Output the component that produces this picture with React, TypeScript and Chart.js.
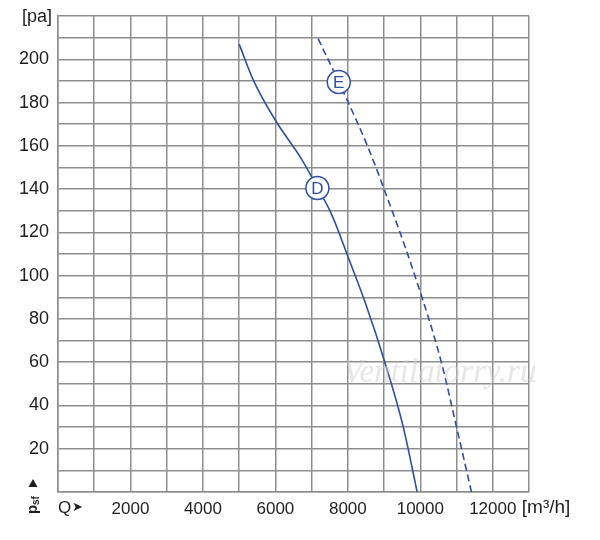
import { useEffect, useRef } from "react";
import { Chart, registerables, type ChartConfiguration, type Plugin } from "chart.js";

Chart.register(...registerables);

// curve D (solid) — Q [m³/h] vs psf [pa]
const D_Q = [5000, 5400, 6030, 6680, 7170, 7560, 8020, 8470, 9020, 9530, 9913];
const D_P = [207, 190, 171, 155, 140.5, 128, 108, 88, 60, 30, 0];

// curve E (dashed)
const E_Q = [7180, 7750, 8540, 9000, 9850, 10580, 11000, 11412];
const E_P = [209.5, 189.5, 160, 140, 100, 60, 30, 0];

// circled curve labels
const MARK_TEXT = ["D", "E"];
const MARK_Q = [7160, 7750];
const MARK_P = [140.5, 189.5];

const Y_TOP_LABEL = "[pa]";
const X_UNIT = "[m³/h]";

const BLUE = "#2f4fa3";
const GRID = "#8e8e8e";
const TEXT = "#1e1e1e";
const FONT = "'Liberation Sans', Arial, sans-serif";

const pairs = (xs: number[], ys: number[]) => xs.map((x, i) => ({ x, y: ys[i] }));

const extras: Plugin<"scatter"> = {
  id: "extras",
  afterDatasetsDraw(chart) {
    const { ctx, scales } = chart;
    const x = scales.x;
    const y = scales.y;
    ctx.save();

    // letters inside the circles
    const meta = chart.getDatasetMeta(2);
    ctx.fillStyle = BLUE;
    ctx.font = `17px ${FONT}`;
    ctx.textAlign = "center";
    ctx.textBaseline = "middle";
    meta.data.forEach((pt, i) => {
      ctx.fillText(MARK_TEXT[i], pt.x, pt.y + 1);
    });

    // watermark
    ctx.font = `italic 33px 'Liberation Serif', serif`;
    ctx.textAlign = "left";
    ctx.textBaseline = "alphabetic";
    ctx.fillStyle = "rgba(205,205,205,0.5)";
    ctx.fillText("Ventilatorry.ru", 343, 382);

    // y unit
    ctx.fillStyle = TEXT;
    ctx.font = `18px ${FONT}`;
    ctx.textAlign = "right";
    ctx.textBaseline = "middle";
    ctx.fillText(Y_TOP_LABEL, x.left - 6, y.getPixelForValue(220) + 1);

    // x captions
    ctx.textAlign = "left";
    const labelY = y.getPixelForValue(0) + 16;
    ctx.font = `17px ${FONT}`;
    ctx.fillText("Q", x.getPixelForValue(0), labelY);
    ctx.font = `13px 'DejaVu Sans', sans-serif`;
    ctx.fillText("➤", x.getPixelForValue(0) + 14, labelY);
    ctx.font = `19px ${FONT}`;
    ctx.fillText(X_UNIT, x.getPixelForValue(12000) + 29, labelY);

    // psf arrow
    ctx.beginPath();
    ctx.moveTo(33, 479);
    ctx.lineTo(37.5, 487);
    ctx.lineTo(28.5, 487);
    ctx.closePath();
    ctx.fill();

    // rotated psf
    ctx.translate(37, labelY + 6);
    ctx.rotate(-Math.PI / 2);
    ctx.textBaseline = "alphabetic";
    ctx.font = `bold 15px ${FONT}`;
    ctx.fillText("p", 0, 0);
    ctx.font = `bold 10px ${FONT}`;
    ctx.fillText("sf", 9, 2);
    ctx.restore();
  },
};

export default function App() {
  const canvasRef = useRef<HTMLCanvasElement>(null);

  useEffect(() => {
    if (!canvasRef.current) return;
    const config: ChartConfiguration<"scatter"> = {
      type: "scatter",
      data: {
        datasets: [
          {
            label: "D",
            data: pairs(D_Q, D_P),
            showLine: true,
            borderColor: BLUE,
            borderWidth: 1.6,
            pointRadius: 0,
            cubicInterpolationMode: "monotone",
            order: 2,
          },
          {
            label: "E",
            data: pairs(E_Q, E_P),
            showLine: true,
            borderColor: BLUE,
            borderWidth: 1.6,
            borderDash: [7, 4],
            pointRadius: 0,
            cubicInterpolationMode: "monotone",
            order: 2,
          },
          {
            label: "marks",
            data: pairs(MARK_Q, MARK_P),
            pointRadius: 11.5,
            pointBackgroundColor: "#ffffff",
            pointBorderColor: BLUE,
            pointBorderWidth: 1.5,
            order: 1,
          },
        ],
      },
      options: {
        animation: false,
        responsive: true,
        maintainAspectRatio: false,
        layout: { padding: { top: 16, right: 71, left: 0, bottom: 0 } },
        plugins: {
          legend: { display: false },
          tooltip: { enabled: false },
        },
        scales: {
          x: {
            type: "linear",
            min: 0,
            max: 13000,
            afterFit: (s) => {
              s.height = 48;
            },
            grid: { color: GRID, lineWidth: 1.5, drawTicks: false },
            border: { color: GRID, width: 1.5 },
            ticks: {
              stepSize: 1000,
              autoSkip: false,
              maxRotation: 0,
              padding: 7,
              color: TEXT,
              font: { family: FONT, size: 17 },
              callback: (v) => {
                const n = Number(v);
                return n > 0 && n <= 12000 && n % 2000 === 0 ? String(n) : "";
              },
            },
          },
          y: {
            type: "linear",
            min: 0,
            max: 220,
            afterFit: (s) => {
              s.width = 58;
              s.paddingTop = 0;
              s.paddingBottom = 0;
            },
            grid: { color: GRID, lineWidth: 1.5, drawTicks: false },
            border: { color: GRID, width: 1.5 },
            ticks: {
              stepSize: 10,
              autoSkip: false,
              padding: 9,
              color: TEXT,
              font: { family: FONT, size: 18 },
              callback: (v) => {
                const n = Number(v);
                return n > 0 && n < 220 && n % 20 === 0 ? String(n) : "";
              },
            },
          },
        },
      },
      plugins: [extras],
    };
    const chart = new Chart(canvasRef.current, config);
    return () => chart.destroy();
  }, []);

  return (
    <div style={{ position: "fixed", left: 0, top: 0, width: 600, height: 540, background: "#fff" }}>
      <canvas ref={canvasRef} />
    </div>
  );
}
